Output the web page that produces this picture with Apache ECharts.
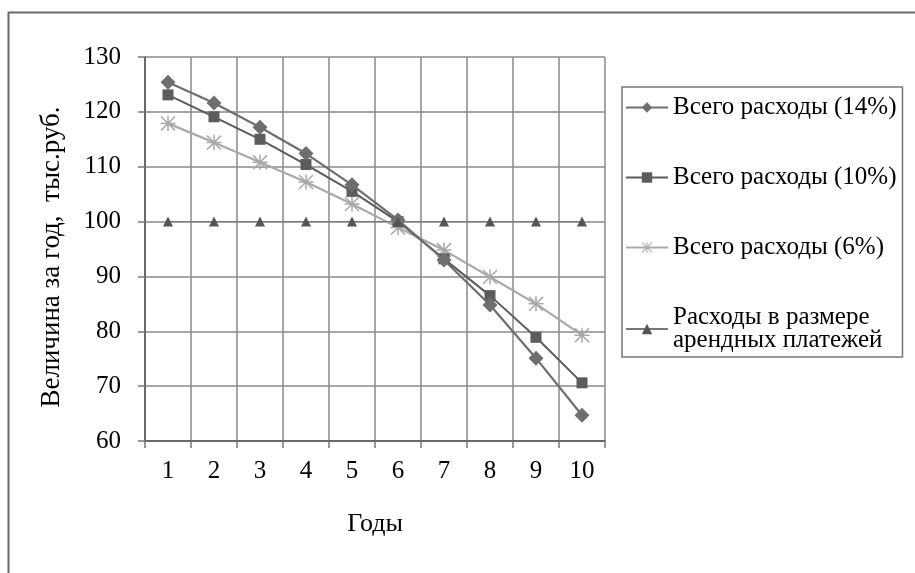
<!DOCTYPE html>
<html>
<head>
<meta charset="utf-8">
<script src="https://cdn.jsdelivr.net/npm/echarts@6/dist/echarts.min.js"></script>
<style>
  html, body { margin: 0; padding: 0; background: #fff; }
  #chart { width: 915px; height: 573px; }
</style>
</head>
<body>
<div id="chart"></div>
<script>
// Годы расчётного периода
const years = ['1', '2', '3', '4', '5', '6', '7', '8', '9', '10'];

// Всего расходы при ставке 14%, 10% и 6%, тыс. руб.
const total14 = [125.4, 121.6, 117.2, 112.4, 106.7, 100.3, 93.0, 84.8, 75.1, 64.7];
const total10 = [123.1, 119.1, 115.0, 110.4, 105.5, 100.0, 93.2, 86.5, 78.9, 70.6];
const total6  = [117.9, 114.4, 110.8, 107.2, 103.2, 98.9, 94.8, 89.9, 85.0, 79.3];

// Расходы в размере арендных платежей
const lease = [100, 100, 100, 100, 100, 100, 100, 100, 100, 100];

const seriesNames = [
  'Всего расходы (14%)',
  'Всего расходы (10%)',
  'Всего расходы (6%)',
  'Расходы в размере\nарендных платежей'
];

const yTicks = { min: 60, max: 130, step: 10 };

// Звёздочка из четырёх тонких полос
const asterisk = 'path://M0 9L20 9L20 11L0 11Z M9 0L11 0L11 20L9 20Z M1.4 0L20 18.6L18.6 20L0 1.4Z M18.6 0L20 1.4L1.4 20L0 18.6Z';

const FONT = "'Liberation Serif', 'Times New Roman', serif";
const GRID = '#8a8a8a';

const chart = echarts.init(document.getElementById('chart'), null, { renderer: 'canvas' });

chart.setOption({
  backgroundColor: '#ffffff',
  animation: false,
  textStyle: { fontFamily: FONT, color: '#000' },
  graphic: [{
    type: 'polyline',
    shape: { points: [[960, 12.5], [8.5, 12.5], [8.5, 600]] },
    style: { stroke: '#6a6a6a', lineWidth: 2, fill: null },
    silent: true
  }],
  grid: { left: 145, top: 57, right: 310, bottom: 132 },
  legend: {
    orient: 'vertical',
    left: 622,
    top: 87,
    padding: [8, 6, 4, 3],
    itemGap: 45,
    itemWidth: 42,
    itemHeight: 13,
    borderColor: '#777',
    borderWidth: 1.5,
    backgroundColor: '#fff',
    textStyle: { fontFamily: FONT, fontSize: 25, color: '#000', lineHeight: 23 },
    data: seriesNames
  },
  xAxis: {
    type: 'category',
    data: years,
    boundaryGap: true,
    name: 'Годы',
    nameLocation: 'middle',
    nameGap: 70,
    nameTextStyle: { fontFamily: FONT, fontSize: 26, color: '#000' },
    axisLine: { lineStyle: { color: '#555', width: 1.5 } },
    axisTick: { show: true, length: 7, lineStyle: { color: '#777', width: 1.5 } },
    axisLabel: { fontFamily: FONT, fontSize: 25, color: '#000', margin: 18 },
    splitLine: { show: true, lineStyle: { color: GRID, width: 1.5 } }
  },
  yAxis: {
    type: 'value',
    min: yTicks.min,
    max: yTicks.max,
    interval: yTicks.step,
    name: 'Величина за год,  тыс.руб.',
    nameLocation: 'middle',
    nameGap: 80,
    nameTextStyle: { fontFamily: FONT, fontSize: 27, color: '#000', padding: [0, 16, 0, 0] },
    axisLine: { show: true, lineStyle: { color: '#555', width: 1.5 } },
    axisTick: { show: true, length: 7, lineStyle: { color: '#777', width: 1.5 } },
    axisLabel: { fontFamily: FONT, fontSize: 25, color: '#000', margin: 24 },
    splitLine: { show: true, lineStyle: { color: GRID, width: 1.5 } }
  },
  series: [
    {
      name: seriesNames[0], type: 'line', data: total14,
      symbol: 'diamond', symbolSize: 15,
      lineStyle: { color: '#6e6e6e', width: 2.2 },
      itemStyle: { color: '#6e6e6e' }, z: 4
    },
    {
      name: seriesNames[1], type: 'line', data: total10,
      symbol: 'rect', symbolSize: 11,
      lineStyle: { color: '#5c5c5c', width: 2 },
      itemStyle: { color: '#5c5c5c' }, z: 3
    },
    {
      name: seriesNames[2], type: 'line', data: total6,
      symbol: asterisk, symbolSize: 15,
      lineStyle: { color: '#a9a9a9', width: 2.2 },
      itemStyle: { color: '#a9a9a9' }, z: 2
    },
    {
      name: seriesNames[3], type: 'line', data: lease,
      symbol: 'triangle', symbolSize: 10,
      lineStyle: { color: '#777', width: 1 },
      itemStyle: { color: '#555' }, z: 5
    }
  ]
});
</script>
</body>
</html>
